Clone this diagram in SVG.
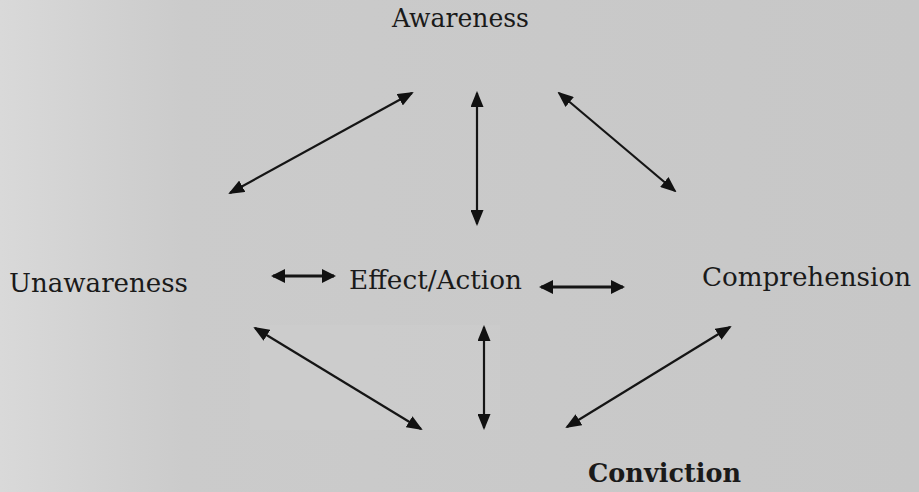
<svg xmlns="http://www.w3.org/2000/svg" width="919" height="492" viewBox="0 0 919 492">
  <defs>
    <linearGradient id="bg" x1="0" y1="0" x2="1" y2="0">
      <stop offset="0" stop-color="#d9d9d9"/>
      <stop offset="0.2" stop-color="#cbcbcb"/>
      <stop offset="1" stop-color="#c7c7c7"/>
    </linearGradient>
    <marker id="ah" viewBox="0 0 16 13" refX="14" refY="6.5" markerWidth="16" markerHeight="13" markerUnits="userSpaceOnUse" orient="auto-start-reverse">
      <path d="M0,0 L16,6.5 L0,13 Z" fill="#111"/>
    </marker>
    <marker id="ahs" viewBox="0 0 14 14" refX="12" refY="7" markerWidth="14" markerHeight="14" markerUnits="userSpaceOnUse" orient="auto-start-reverse">
      <path d="M0,0 L14,7 L0,14 Z" fill="#111"/>
    </marker>
  </defs>
  <style>
    .lbl { font-family: "DejaVu Serif", "Liberation Serif", serif; font-size: 26px; fill: #1a1a1a; }
    .bold { font-weight: bold; }
    .arr { stroke: #151515; stroke-width: 2.2; fill: none; marker-start: url(#ah); marker-end: url(#ah); }
    .arrh { stroke: #151515; stroke-width: 3; fill: none; marker-start: url(#ahs); marker-end: url(#ahs); }
  </style>
  <rect x="0" y="0" width="919" height="492" fill="url(#bg)"/>
  <rect x="250" y="325" width="250" height="105" fill="#d2d2d2" opacity="0.3"/>

  <g id="awareness"><text class="lbl" x="392" y="27" textLength="137" lengthAdjust="spacingAndGlyphs">Awareness</text></g>
  <g id="unawareness"><text class="lbl" x="9" y="292" textLength="179" lengthAdjust="spacingAndGlyphs">Unawareness</text></g>
  <g id="effect-action"><text class="lbl" x="349" y="289" textLength="173" lengthAdjust="spacingAndGlyphs">Effect/Action</text></g>
  <g id="comprehension"><text class="lbl" x="702" y="286" textLength="209" lengthAdjust="spacingAndGlyphs">Comprehension</text></g>
  <g id="conviction"><text class="lbl bold" x="588" y="482" textLength="153" lengthAdjust="spacingAndGlyphs">Conviction</text></g>

  <g id="connectors">
    <line class="arr" x1="230" y1="193" x2="412" y2="93"/>
    <line class="arr" x1="477" y1="93" x2="477" y2="224"/>
    <line class="arr" x1="559" y1="93" x2="675" y2="191"/>
    <line class="arrh" x1="273" y1="276" x2="334" y2="276"/>
    <line class="arrh" x1="541" y1="287" x2="623" y2="287"/>
    <line class="arr" x1="255" y1="328" x2="421" y2="429"/>
    <line class="arr" x1="484" y1="327" x2="484" y2="428"/>
    <line class="arr" x1="730" y1="327" x2="567" y2="427"/>
  </g>
</svg>
